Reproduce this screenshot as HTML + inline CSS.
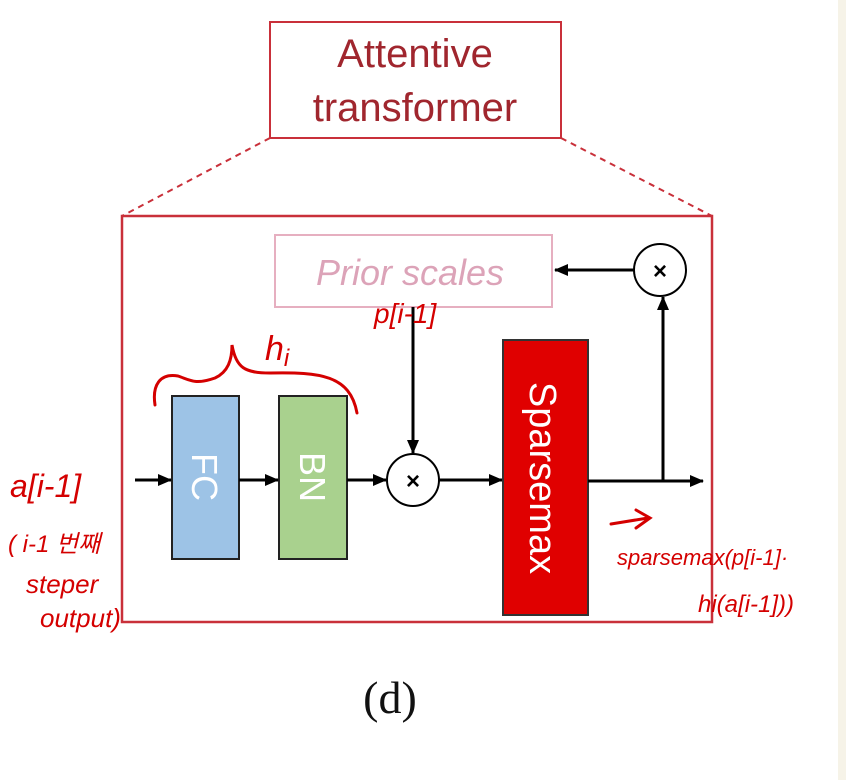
<!DOCTYPE html>
<html><head><meta charset="utf-8"><style>
html,body{margin:0;padding:0;background:#fff;width:846px;height:780px;overflow:hidden}
</style></head><body>
<svg width="846" height="780" viewBox="0 0 846 780" xmlns="http://www.w3.org/2000/svg">
<defs>
<marker id="ah" markerWidth="14" markerHeight="14" refX="13" refY="6" orient="auto" markerUnits="userSpaceOnUse"><path d="M0,0 L14,6 L0,12 Z" fill="#000"/></marker>
</defs>
<rect x="838" y="0" width="8" height="780" fill="#f6f3e8"/>
<!-- top box -->
<rect x="270" y="22" width="291" height="116" fill="#fff" stroke="#c9303a" stroke-width="2"/>
<text x="415" y="67" text-anchor="middle" font-family="Liberation Sans, sans-serif" font-size="40" fill="#a0262e">Attentive</text>
<text x="415" y="121" text-anchor="middle" font-family="Liberation Sans, sans-serif" font-size="40" fill="#a0262e">transformer</text>
<line x1="270" y1="138" x2="122" y2="216" stroke="#c9303a" stroke-width="2" stroke-dasharray="6,5"/>
<line x1="561" y1="138" x2="712" y2="216" stroke="#c9303a" stroke-width="2" stroke-dasharray="6,5"/>
<!-- main box -->
<rect x="122" y="216" width="590" height="406" fill="#fff" stroke="#c9303a" stroke-width="2.5"/>
<!-- prior scales -->
<rect x="275" y="235" width="277" height="72" fill="#fff" stroke="#e6afc0" stroke-width="2"/>
<text x="410" y="285" text-anchor="middle" font-family="Liberation Sans, sans-serif" font-style="italic" font-size="36" fill="#dca3b8">Prior scales</text>
<!-- top circle -->
<circle cx="660" cy="270" r="26" fill="#fff" stroke="#000" stroke-width="2"/>
<text x="660" y="279" text-anchor="middle" font-family="Liberation Sans, sans-serif" font-size="24" font-weight="bold">×</text>
<line x1="634" y1="270" x2="555" y2="270" stroke="#000" stroke-width="3" marker-end="url(#ah)"/>
<!-- FC BN -->
<rect x="172" y="396" width="67" height="163" fill="#9dc3e6" stroke="#222" stroke-width="2"/>
<rect x="279" y="396" width="68" height="163" fill="#a9d18e" stroke="#222" stroke-width="2"/>
<text transform="translate(192,477) rotate(90)" text-anchor="middle" font-family="Liberation Sans, sans-serif" font-size="36" fill="#fff">FC</text>
<text transform="translate(300,477) rotate(90)" text-anchor="middle" font-family="Liberation Sans, sans-serif" font-size="36" fill="#fff">BN</text>
<!-- arrows -->
<line x1="135" y1="480" x2="171" y2="480" stroke="#000" stroke-width="3" marker-end="url(#ah)"/>
<line x1="239" y1="480" x2="278" y2="480" stroke="#000" stroke-width="3" marker-end="url(#ah)"/>
<line x1="347" y1="480" x2="386" y2="480" stroke="#000" stroke-width="3" marker-end="url(#ah)"/>
<circle cx="413" cy="480" r="26" fill="#fff" stroke="#000" stroke-width="2"/>
<text x="413" y="489" text-anchor="middle" font-family="Liberation Sans, sans-serif" font-size="24" font-weight="bold">×</text>
<line x1="413" y1="307" x2="413" y2="453" stroke="#000" stroke-width="3" marker-end="url(#ah)"/>
<line x1="439" y1="480" x2="502" y2="480" stroke="#000" stroke-width="3" marker-end="url(#ah)"/>
<!-- sparsemax -->
<rect x="503" y="340" width="85" height="275" fill="#e00000" stroke="#333" stroke-width="2"/>
<text transform="translate(530,478) rotate(90)" text-anchor="middle" font-family="Liberation Sans, sans-serif" font-size="38" fill="#fff">Sparsemax</text>
<line x1="588" y1="481" x2="703" y2="481" stroke="#000" stroke-width="3" marker-end="url(#ah)"/>
<line x1="663" y1="481" x2="663" y2="297" stroke="#000" stroke-width="3" marker-end="url(#ah)"/>
<!-- caption -->
<text x="390" y="713" text-anchor="middle" font-family="Liberation Serif, serif" font-size="46" fill="#111">(d)</text>
<!-- handwriting -->
<g fill="none" stroke="#d40000" stroke-width="3" stroke-linecap="round">
<path d="M155,405 C152,385 160,373 178,376 C190,380 195,385 215,378 C228,372 232,360 232,345 C236,368 245,373 270,373 C320,372 350,375 357,413"/>
<path d="M611,524 L648,518 M636,510 L650,518 L636,528"/>
</g>
<g font-family="Liberation Sans, 'Noto Sans CJK KR', sans-serif" fill="#d40000">
<text x="265" y="360" font-size="34" font-style="italic">h<tspan font-size="24" dy="6">i</tspan></text>
<text x="374" y="323" font-size="28" font-style="italic">p[i-1]</text>
<text x="10" y="497" font-size="32" font-style="italic">a[i-1]</text>
<text x="8" y="552" font-size="24" font-style="italic">( i-1 번째</text>
<text x="26" y="593" font-size="26" font-style="italic">steper</text>
<text x="40" y="627" font-size="26" font-style="italic">output)</text>
<text x="617" y="565" font-size="22" font-style="italic">sparsemax(p[i-1]·</text>
<text x="698" y="612" font-size="24" font-style="italic">hi(a[i-1]))</text>
</g>
</svg>
</body></html>
